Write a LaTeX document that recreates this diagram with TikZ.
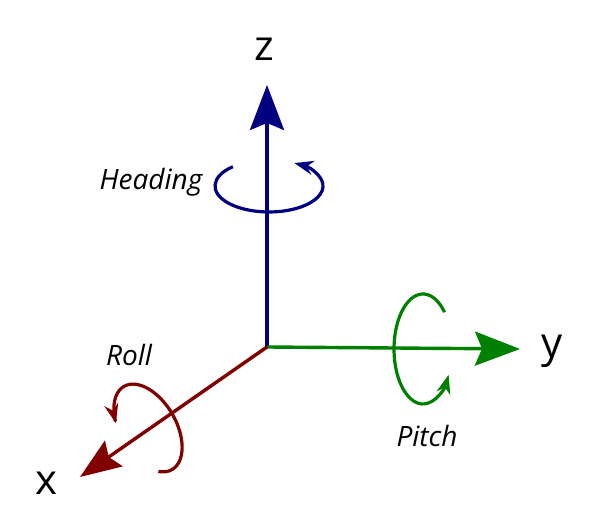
\documentclass[tikz,border=0pt]{standalone}
\usepackage{fontspec}
\setmainfont{Open Sans}
\usetikzlibrary{arrows.meta}
\definecolor{zcol}{HTML}{000080}
\definecolor{ycol}{HTML}{008000}
\definecolor{xcol}{HTML}{800000}
\begin{document}
\begin{tikzpicture}[x=1pt,y=1pt,
  axis/.style={line width=3.4pt},
  bigtip/.style={-{Stealth[length=45pt,width=34pt,inset=7pt]}},
  smalltip/.style={-{Stealth[length=19pt,width=14pt,inset=6pt]}},
  rot/.style={line width=3.2pt},
  axlabel/.style={anchor=base,inner sep=0pt,font=\fontsize{42}{50}\selectfont},
  rotlabel/.style={anchor=base,inner sep=0pt,font=\fontsize{28}{34}\selectfont\itshape}]
\useasboundingbox (0,0) rectangle (600,532);
\coordinate (O) at (267,185);
\coordinate (Z) at (267,447);
\coordinate (Y) at (520,183);
\coordinate (X) at (80,55);
\coordinate (hc) at (269,346);
\coordinate (pc) at (423,183);
% rotations
\draw[rot,zcol,smalltip] (hc) ++(132:54 and 26) arc[start angle=132,end angle=422,x radius=54,y radius=26];
\draw[rot,ycol,smalltip] (pc) ++(42:29 and 55) arc[start angle=42,end angle=332,x radius=29,y radius=55];
\begin{scope}[shift={(148,104)},rotate=30]
\draw[rot,xcol,smalltip] plot[domain=-117:155,samples=120] ({28*cos(\x)},{48*sin(\x)});
\end{scope}
% axes
\draw[axis,zcol,bigtip] (O) -- (Z);
\draw[axis,ycol,bigtip] (O) -- (Y);
\draw[axis,xcol,-{Stealth[length=41pt,width=31pt,inset=6pt]}] (O) -- (X);
% labels
\node[axlabel] (zl) at (264,471) {z};
\node[axlabel] (yl) at (552,174) {y};
\node[axlabel] (xl) at (47,37) {x};
\node[rotlabel] (hl) at (151,342) {Heading};
\node[rotlabel] (pl) at (427,85) {Pitch};
\node[rotlabel] (rl) at (129,166) {Roll};
\end{tikzpicture}
\end{document}
